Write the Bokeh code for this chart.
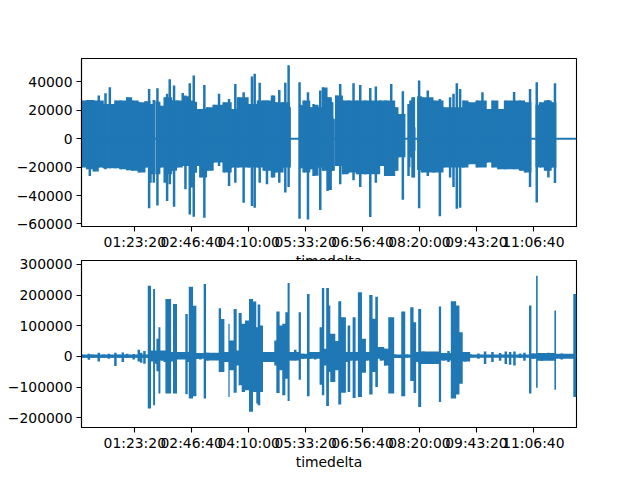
from bokeh.plotting import figure
from bokeh.layouts import column
from bokeh.models import Range1d, FixedTicker
from bokeh.embed import file_html
from bokeh.resources import INLINE

BLUE = "#1f77b4"
x_ticks = [5000, 10000, 15000, 20000, 25000, 30000, 35000, 40000]
x_labels = ["01:23:20", "02:46:40", "04:10:00", "05:33:20", "06:56:40", "08:20:00", "09:43:20", "11:06:40"]
top_ticks = [-60000, -40000, -20000, 0, 20000, 40000]
top_tick_labels = ["\u221260000", "\u221240000", "\u221220000", "0", "20000", "40000"]
bot_ticks = [-200000, -100000, 0, 100000, 200000, 300000]
bot_tick_labels = ["\u2212200000", "\u2212100000", "0", "100000", "200000", "300000"]
xlabel = "timedelta"

# upper series: extremes read at individual times
top_t = [320,820,1050,1400,1840,2280,2430,2810,3300,3740,4330,4770,5350,5940,6260,6380,6670,6990,7250,7630,7840,8070,8280,8450,8710,9210,9450,9830,10000,10180,10470,10760,11110,11350,11930,12400,12810,13280,13510,13830,14070,14560,15000,15290,15530,15820,15970,16320,16610,17050,17340,17690,18070,18220,18510,18600,19470,19680,19830,20210,20410,20700,21140,21290,21520,21930,22310,22460,22690,23040,23280,23780,24210,24510,24800,25240,25680,26170,26550,26990,27520,27870,28160,28540,28660,29040,29210,29390,29540,29970,30210,30730,31230,31790,32110,32690,32990,33280,33570,33860,34300,35030,35530,35910,36410,36930,37520,38310,38840,39270,39710,40300,40590,41030,41320,41610,41900]
top_hi = [26900,27300,26900,26900,30400,24500,32000,36300,26900,26900,29200,26900,25700,26400,35100,24500,27300,35600,23300,29200,31600,41900,26900,37500,26900,32300,30400,39100,26900,44500,21000,21000,37900,22100,24000,31600,25700,28000,21000,38600,29200,32800,24500,43800,45700,26900,39400,26900,26900,30400,25700,34400,25700,39400,51800,22100,39800,23300,26900,32800,22100,24500,22100,33900,36300,29200,25700,13900,30400,38600,26900,26900,39100,26900,37900,26900,35800,36800,26900,26900,38600,22100,17500,33500,17400,24500,26900,29200,8000,41000,29200,33900,26900,28000,22100,29200,31600,39100,35100,26900,25700,26900,32800,20900,26900,20900,26900,33000,26900,25700,35100,39800,25700,26900,27300,25700,39100]
top_lo = [-20300,-21400,-26200,-23100,-20300,-20700,-21400,-20700,-20700,-21400,-22100,-22600,-23800,-20300,-49000,-30900,-30900,-46900,-20300,-30900,-43800,-32000,-22600,-47800,-20300,-19100,-35600,-53300,-34400,-54900,-19100,-27300,-55600,-22600,-16700,-19100,-23800,-33200,-20300,-30900,-20300,-45000,-20300,-47400,-48500,-20300,-30900,-22600,-32000,-27300,-23800,-30900,-20300,-37900,-33900,-20300,-56300,-20300,-23800,-56800,-21400,-26200,-20300,-50200,-22600,-36800,-22600,-22600,-19100,-32000,-25000,-23800,-29200,-25000,-33900,-25000,-55000,-30900,-19100,-26200,-25000,-22600,-13000,-43000,-13000,-26200,-13000,-27300,-8500,-49000,-23800,-26200,-23800,-54500,-20300,-27300,-33900,-49200,-48500,-20300,-17900,-20300,-19100,-16700,-20300,-21400,-21400,-21400,-22600,-23800,-33900,-44800,-20300,-22600,-27300,-20300,-31100]

# upper series: solid body of the trace, with its silent stretches
top_body_t = [320,820,1400,1840,2280,3300,3740,4330,4770,5350,5940,6380,6670,6830,6860,7250,7630,8280,8710,9210,9830,10470,10760,11350,11930,12810,13510,14070,15000,15820,16320,17050,17340,18070,18640,19450,19680,19830,20410,20700,21140,21520,21930,22310,22440,22470,22620,23280,23780,24510,25240,26550,26990,27870,28160,28700,29000,29210,29390,29620,29790,30210,31230,32110,33860,34300,35030,35910,36410,36930,37520,38840,39270,39830,40190,40590,41030,41610,42020,43790]
top_body_hi = [26900,27300,26900,27000,24500,26900,26900,29200,26900,25700,26400,24500,26900,0,26000,23300,29200,26900,26900,30000,26000,21000,21000,22100,24000,25700,21000,29200,24500,26900,26900,30400,25700,25700,0,24000,23300,26900,22100,24000,22100,36000,29200,25700,15000,0,30400,26900,26900,26900,26900,26900,26900,22100,17500,0,24000,26900,29200,0,30000,29200,26900,22100,26900,25700,26900,20900,26900,20900,26900,26900,25700,0,24000,25700,26900,25700,0,0]
top_body_lo = [-20300,-21400,-23100,-20300,-20700,-20700,-21400,-22100,-22600,-23800,-20300,-25000,-25000,0,-25000,-20300,-25000,-22600,-20300,-19100,-24000,-19100,-27300,-22600,-16700,-23800,-20300,-20300,-20300,-20300,-22600,-27300,-23800,-20300,0,-21000,-20300,-23800,-21400,-26000,-20300,-22600,-36000,-22600,-22600,0,-19100,-25000,-23800,-25000,-25000,-19100,-26200,-22600,-13000,0,-20000,-13000,-27300,0,-22000,-23800,-23800,-20300,-20300,-17900,-20300,-16700,-20300,-21400,-21400,-22600,-23800,0,-20000,-20300,-22600,-20300,0,0]

# lower series: quiet-time extremes
bot_t = [320,970,1260,1840,2280,2720,3300,3600,3950,4330,4910,5350,5560,5850,6140,7400,7630,8860,9150,10470,10760,11400,11930,13100,16610,17050,18800,19090,19740,20410,20850,23540,23980,24450,25380,26610,26990,27870,28890,29770,30350,30790,31380,32110,32550,34010,34450,35180,35760,36410,37080,37580,37960,38340,38840,39220,40000,40740,41320,42490,43070]
bot_hi = [6500,8700,6500,11900,6500,8700,11900,5400,13000,8700,7600,21700,11900,17300,3300,14100,7600,10800,6500,8700,6500,11900,6500,14100,14100,8700,14100,21700,8700,14100,9800,14100,14100,14100,14100,30400,24900,6500,6500,14100,16300,14100,8700,10800,17300,14100,7600,9800,16300,14100,10800,16300,14100,16300,9800,11900,9800,10800,11900,9800,7600]
bot_lo = [-4300,-10800,-3300,-16300,-3300,-7600,-31400,-2200,-18400,-5400,-9800,-16300,-20600,-23800,-5400,-13000,-18400,-7600,-3300,-7600,-9800,-13000,-3300,-18400,-18400,-5400,-13000,-13000,-7600,-7600,-9800,-18400,-13000,-13000,-13000,-13000,-29300,-5400,-3300,-18400,-24900,-13000,-7600,-13000,-18400,-16300,-3300,-7600,-24900,-18400,-14100,-24900,-27100,-29300,-5400,-14100,-7600,-14100,-7600,-9800,-5400]

# lower series: bursts, each value holding until the next time
bot_body_t = [320,6080,6140,6430,6610,6780,6900,7080,7250,7690,8190,8360,8710,9440,9650,9740,10120,10410,11050,11260,12370,12570,12870,13220,13330,13680,13950,14120,14390,14680,15030,15380,15670,15790,16020,16260,17250,17430,17720,17950,18220,18420,18600,19390,19590,20120,20350,21230,21430,21640,21810,22050,22170,22610,22870,23130,23540,23690,23920,24130,24390,24590,24950,25300,25590,25880,26120,26350,26550,26900,27260,27780,28400,28750,29190,29480,29710,29890,30150,31700,31900,32750,33220,33510,33800,34450,39620,39830,40240,40380,41850,41990,43510,43790]
bot_body_hi = [6500,6500,230900,19500,220100,19500,57500,95400,19500,187500,14100,171300,14100,138800,14100,227600,165000,10800,236300,11900,157200,122000,14100,106200,52000,155000,19500,142000,106200,117100,187500,178900,95400,169100,100800,14100,52000,146300,100800,106200,144200,239600,14100,144200,8700,203800,14100,95400,223300,24900,223300,165900,73700,49900,179900,127900,14100,100800,14100,127900,14100,209200,57500,14100,200500,122900,195100,30400,30400,24900,127900,6500,146300,6500,160400,111700,14100,155000,16300,162600,10800,179900,165900,79100,14100,6500,165900,9800,263400,10800,149600,8700,203800,203800]
bot_body_lo = [-4300,-5400,-170200,-16300,-159300,-23800,-48800,-121400,-13000,-121400,-16300,-121400,-9800,-123600,-18400,-137700,-130100,-7600,-137700,-13000,-50900,-50900,-18400,-132200,-45500,-118200,-29300,-94300,-116000,-110600,-181000,-116000,-153900,-159300,-116000,-18400,-29300,-119200,-45500,-126800,-72600,-145300,-13000,-75900,-7600,-130100,-7600,-92100,-126800,-29300,-161500,-50900,-83500,-45500,-157200,-118200,-18400,-116000,-13000,-135500,-13000,-132200,-53100,-13000,-124700,-50900,-99700,-7600,-13000,-29300,-121400,-5400,-130100,-3300,-80200,-119200,-18400,-164700,-24900,-148500,-13000,-137700,-124700,-88900,-16300,-3300,-121400,-7600,-101900,-14100,-108400,-7600,-132200,-132200]

zero_t = [320, 43790]
zero_v = [0, 0]
x_range = (322, 43790)

def panel(height, border_top, border_bottom, y_range, ticks, labels, t, hi, lo, bt, bhi, blo, margin, border_alpha):
    p = figure(width=628, height=height, output_backend="svg", toolbar_location=None,
               x_range=Range1d(*x_range), y_range=Range1d(*y_range),
               min_border_left=81, min_border_right=52,
               min_border_top=border_top, min_border_bottom=border_bottom,
               margin=margin, background_fill_color="white", border_fill_color="white",
               border_fill_alpha=border_alpha)
    p.grid.visible = False
    p.outline_line_color = "black"
    p.outline_line_width = 1.1
    p.outline_line_alpha = 1
    p.varea_step(x=bt, y1=blo, y2=bhi, step_mode="after", fill_color=BLUE)
    p.segment(x0=t, y0=lo, x1=t, y1=hi, line_color=BLUE, line_width=2.5)
    p.line(x=zero_t, y=zero_v, line_color=BLUE, line_width=2.08)
    xa, ya = p.xaxis[0], p.yaxis[0]
    xa.ticker = FixedTicker(ticks=x_ticks)
    xa.major_label_overrides = dict(zip(x_ticks, x_labels))
    ya.ticker = FixedTicker(ticks=ticks)
    ya.major_label_overrides = dict(zip(ticks, labels))
    xa.axis_label = xlabel
    xa.axis_label_text_font = "DejaVu Sans"
    xa.axis_label_text_font_size = "13.9px"
    xa.axis_label_text_font_style = "normal"
    xa.axis_label_text_color = "black"
    xa.axis_label_standoff = 0
    for a in (xa, ya):
        a.major_label_text_font = "DejaVu Sans"
        a.major_label_text_font_size = "13.9px"
        a.major_label_text_color = "black"
        a.major_tick_out = 5
        a.major_tick_in = 0
        a.major_tick_line_width = 1.1
        a.major_tick_line_color = "black"
        a.minor_tick_line_color = None
        a.axis_line_color = "black"
        a.axis_line_width = 1.1
    ya.major_label_standoff = 4
    xa.major_label_standoff = 2
    return p

top = panel(276, 58, 50, (-61770, 56500), top_ticks, top_tick_labels,
            top_t, top_hi, top_lo, top_body_t, top_body_hi, top_body_lo, (0, 0, 0, 0), 1)
bottom = panel(229, 12, 50, (-232000, 313000), bot_ticks, bot_tick_labels,
               bot_t, bot_hi, bot_lo, bot_body_t, bot_body_hi, bot_body_lo, (-28, 0, 0, 0), 0)

page = column(top, bottom, spacing=0)
open("out.html", "w").write(file_html(page, INLINE))
